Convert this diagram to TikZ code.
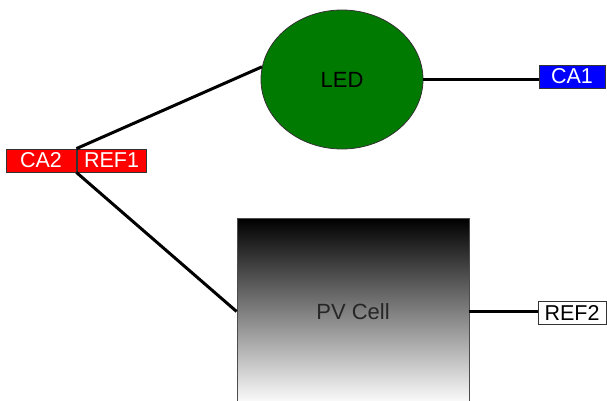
\documentclass[tikz,border=0pt]{standalone}
\usepackage{fontspec}
\setmainfont{Liberation Sans}
\usetikzlibrary{shapes.geometric}
\definecolor{ledgreen}{RGB}{0,122,0}
\begin{document}
\begin{tikzpicture}[x=1pt,y=-1pt,
  tag/.style={draw=black!80, line width=0.8pt, rectangle, inner sep=0pt, minimum height=23pt, font=\fontsize{21.5}{21.5}\selectfont},
  wire/.style={line width=3pt, black},
]
\clip (0,0) rectangle (607,400);
\fill[white] (0,0) rectangle (607,400);
% LED
\node[ellipse, draw=black!80, line width=0.8pt, fill=ledgreen, minimum width=162pt, minimum height=139pt, inner sep=0pt, font=\fontsize{22}{22}\selectfont] (led) at (342,79.5) {LED};
% PV cell
\node[rectangle, draw=black!70, line width=0.8pt, top color=black, bottom color=white, minimum width=232pt, minimum height=187pt, inner sep=0pt, font=\fontsize{22}{22}\selectfont, text=black!85] (pv) at (353,311.5) {PV Cell};
% labels
\node[tag, fill=red, text=white, minimum width=70pt] (ca2) at (41,160.5) {CA2};
\node[tag, fill=red, text=white, minimum width=69pt] (ref1) at (111.5,160.5) {REF1};
\node[tag, fill=blue, text=white, minimum width=66pt] (ca1) at (572,76.5) {CA1};
\node[tag, fill=white, text=black, minimum width=68pt] (ref2) at (572,312.5) {REF2};
% wires
\draw[wire] (ca2.north east) -- (led.171);
\draw[wire] (ca2.south east) -- (pv.west);
\draw[wire] (led.east) -- (led.east -| ca1.west);
\draw[wire] (pv.east) -- (pv.east -| ref2.west);
\end{tikzpicture}
\end{document}
